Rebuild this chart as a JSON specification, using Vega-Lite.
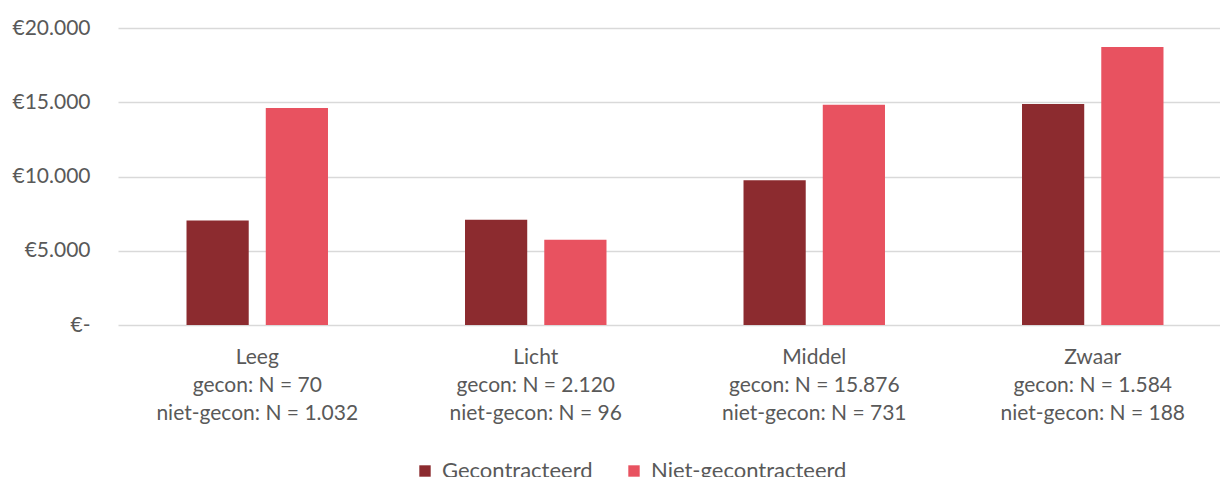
{
  "$schema": "https://vega.github.io/schema/vega-lite/v6.json",
  "autosize": "none",
  "width": 1114,
  "height": 297,
  "padding": {"left": 118, "top": 28, "right": 0, "bottom": 152},
  "background": "white",
  "config": {
    "font": "Lato",
    "view": {"stroke": null},
    "axis": {"labelColor": "#595959", "labelFont": "Lato", "labelFontSize": 21, "labelLimit": 0, "domain": false, "ticks": false, "title": null}
  },
  "data": {
    "values": [
      {"categorie": "Leeg|gecon: N = 70|niet-gecon: N = 1.032", "type": "Gecontracteerd", "kosten": 7040},
      {"categorie": "Leeg|gecon: N = 70|niet-gecon: N = 1.032", "type": "Niet-gecontracteerd", "kosten": 14610},
      {"categorie": "Licht|gecon: N = 2.120|niet-gecon: N = 96", "type": "Gecontracteerd", "kosten": 7090},
      {"categorie": "Licht|gecon: N = 2.120|niet-gecon: N = 96", "type": "Niet-gecontracteerd", "kosten": 5740},
      {"categorie": "Middel|gecon: N = 15.876|niet-gecon: N = 731", "type": "Gecontracteerd", "kosten": 9740},
      {"categorie": "Middel|gecon: N = 15.876|niet-gecon: N = 731", "type": "Niet-gecontracteerd", "kosten": 14840},
      {"categorie": "Zwaar|gecon: N = 1.584|niet-gecon: N = 188", "type": "Gecontracteerd", "kosten": 14880},
      {"categorie": "Zwaar|gecon: N = 1.584|niet-gecon: N = 188", "type": "Niet-gecontracteerd", "kosten": 18720}
    ]
  },
  "mark": {"type": "bar"},
  "encoding": {
    "x": {
      "field": "categorie",
      "type": "nominal",
      "sort": null,
      "scale": {"paddingInner": 0.492, "paddingOuter": 0.246},
      "axis": {
        "labelAngle": 0,
        "labelExpr": "split(datum.value, '|')",
        "labelLineHeight": 28,
        "labelPadding": 21,
        "labelBaseline": "top",
        "grid": false
      }
    },
    "xOffset": {
      "field": "type",
      "type": "nominal",
      "scale": {"paddingInner": 0.215, "paddingOuter": 0}
    },
    "y": {
      "field": "kosten",
      "type": "quantitative",
      "scale": {"domain": [0, 20000], "nice": false},
      "axis": {
        "values": [0, 5000, 10000, 15000, 20000],
        "labelExpr": "datum.value == 0 ? '€-' : '€' + replace(format(datum.value, ',.0f'), ',', '.')",
        "labelPadding": 28,
        "grid": true,
        "gridColor": "#d9d9d9",
        "gridWidth": 1.5
      }
    },
    "color": {
      "field": "type",
      "type": "nominal",
      "scale": {"domain": ["Gecontracteerd", "Niet-gecontracteerd"], "range": ["#8c2b2f", "#e85260"]},
      "legend": {
        "title": null,
        "orient": "none",
        "direction": "horizontal",
        "legendX": 296,
        "legendY": 432,
        "symbolType": "square",
        "symbolSize": 130,
        "symbolStrokeWidth": 0,
        "labelFontSize": 22,
        "labelLimit": 0,
        "labelColor": "#595959",
        "labelFont": "Lato",
        "labelOffset": 6,
        "columnPadding": 30
      }
    }
  }
}
